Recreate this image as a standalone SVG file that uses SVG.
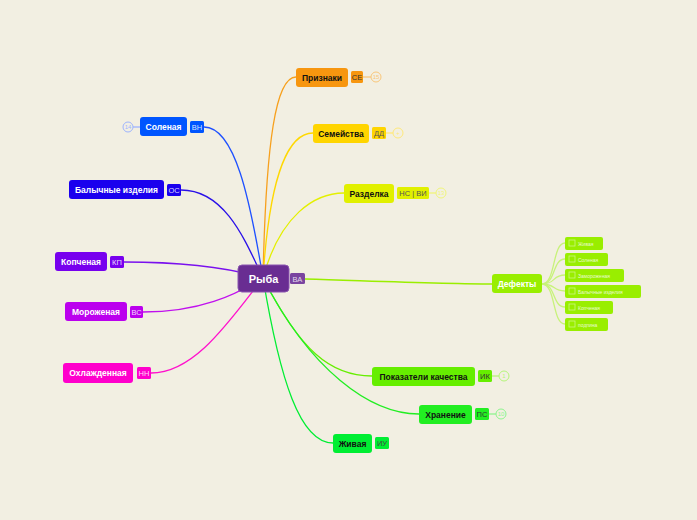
<svg xmlns="http://www.w3.org/2000/svg" width="697" height="520" viewBox="0 0 697 520">
<style>
.lbl{font-family:"Liberation Sans",Arial,sans-serif;font-weight:bold;font-size:8.5px;text-anchor:middle}
.tag{font-family:"Liberation Sans",Arial,sans-serif;font-size:7.5px;text-anchor:middle}
.cnt{font-family:"Liberation Sans",Arial,sans-serif;font-size:6px;text-anchor:middle}
.sub{font-family:"Liberation Sans",Arial,sans-serif;font-size:5px;fill:#ffffff;fill-opacity:.8}
.conn path{fill:none;stroke-width:1.3}
.cb{fill:none;stroke:#ffffff;stroke-opacity:.5;stroke-width:.8}
</style>
<rect width="697" height="520" fill="#f2efe2"/>
<g id="connectors" class="conn">
<path d="M263,278 C266,140 276,77 296,77" stroke="#f7a01d"/>
<path d="M263,278 C270,170 290,133 313,133" stroke="#ffd800"/>
<path d="M263,278 C280,215 315,193 344,193" stroke="#e4f000"/>
<path d="M305,279 C400,282 450,284 492,284" stroke="#9aee00"/>
<path d="M263,278 C300,350 330,376 372,376" stroke="#66ee00"/>
<path d="M263,278 C310,370 370,414 419,414" stroke="#22ee22"/>
<path d="M263,278 C280,380 300,443 333,443" stroke="#00ee33"/>
<path d="M204,127 C235,127 250,200 263,278" stroke="#1e50ff"/>
<path d="M181,190 C225,190 245,240 263,278" stroke="#2a10e8"/>
<path d="M124,262 C190,262 230,268 263,278" stroke="#7a10ee"/>
<path d="M143,312 C200,312 235,295 263,278" stroke="#c010ee"/>
<path d="M151,373 C195,373 230,320 263,278" stroke="#ff10cc"/>
<g stroke="#c8f27a" stroke-width="1">
<path d="M542,284 C556,284 552,243 565,243" fill="none"/>
<path d="M542,284 C556,284 552,259 565,259" fill="none"/>
<path d="M542,284 C556,284 552,275 565,275" fill="none"/>
<path d="M542,284 C556,284 552,291 565,291" fill="none"/>
<path d="M542,284 C556,284 552,307 565,307" fill="none"/>
<path d="M542,284 C556,284 552,324 565,324" fill="none"/>
</g>
<g stroke-width="1" fill="none">
<path d="M363,77 H371" stroke="#f9c77a"/>
<path d="M386,133 H393" stroke="#ffe97a"/>
<path d="M429,193 H436" stroke="#f0f57a"/>
<path d="M492,376 H499" stroke="#b5f57a"/>
<path d="M489,414 H496" stroke="#8ef58e"/>
<path d="M133,127 H140" stroke="#9db4ff"/>
</g>
</g>
<g id="n-ryba">
<rect x="238" y="265" width="51" height="27" rx="4" fill="#692d92" stroke="#8a55b0" stroke-width="1"/>
<text x="263.5" y="282.5" class="lbl" style="font-size:11px" fill="#ffffff">Рыба</text>
<rect x="290" y="273" width="15" height="11" rx="1.5" fill="#7a44a0"/>
<text x="297.5" y="281.5" class="tag" fill="#ffffff" fill-opacity=".8">ВА</text>
</g>
<g id="n-priznaki">
<rect x="296" y="68" width="52" height="19" rx="3" fill="#f7960f"/>
<text x="322" y="80.5" class="lbl" fill="#111">Признаки</text>
<rect x="351" y="71" width="12" height="12" rx="1.5" fill="#f7960f"/>
<text x="357" y="80" class="tag" fill="#333">СЕ</text>
<circle cx="376" cy="77" r="5" fill="none" stroke="#f9c77a"/>
<text x="376" y="79" class="cnt" fill="#f9c77a">15</text>
</g>
<g id="n-semeystva">
<rect x="313" y="124" width="56" height="19" rx="3" fill="#ffd500"/>
<text x="341" y="136.5" class="lbl" fill="#111">Семейства</text>
<rect x="372" y="127" width="14" height="12" rx="1.5" fill="#ffd500"/>
<text x="379" y="136" class="tag" fill="#555">ДД</text>
<circle cx="398" cy="133" r="5" fill="none" stroke="#ffe97a"/>
<text x="398" y="135" class="cnt" fill="#ffe97a">+</text>
</g>
<g id="n-razdelka">
<rect x="344" y="184" width="50" height="19" rx="3" fill="#e1f000"/>
<text x="369" y="196.5" class="lbl" fill="#111">Разделка</text>
<rect x="397" y="187" width="32" height="12" rx="1.5" fill="#e1f000"/>
<text x="413" y="196" class="tag" fill="#555">НС | ВИ</text>
<circle cx="441" cy="193" r="5" fill="none" stroke="#f0f57a"/>
<text x="441" y="195" class="cnt" fill="#f0f57a">13</text>
</g>
<g id="n-defekty">
<rect x="492" y="274" width="50" height="19" rx="3" fill="#99ee00"/>
<text x="517" y="286.5" class="lbl" fill="#ffffff">Дефекты</text>
</g>
<g id="n-d-zhivaya"><rect x="565" y="237" width="38" height="13" rx="2" fill="#99ee00"/><rect x="569" y="240" width="6" height="6" class="cb"/><text x="578" y="245.5" class="sub">Живая</text></g>
<g id="n-d-solenaya"><rect x="565" y="253" width="43" height="13" rx="2" fill="#99ee00"/><rect x="569" y="256" width="6" height="6" class="cb"/><text x="578" y="261.5" class="sub">Соленая</text></g>
<g id="n-d-zamor"><rect x="565" y="269" width="59" height="13" rx="2" fill="#99ee00"/><rect x="569" y="272" width="6" height="6" class="cb"/><text x="578" y="277.5" class="sub">Замороженая</text></g>
<g id="n-d-balych"><rect x="565" y="285" width="76" height="13" rx="2" fill="#99ee00"/><rect x="569" y="288" width="6" height="6" class="cb"/><text x="578" y="293.5" class="sub">Балычные изделия</text></g>
<g id="n-d-kopch"><rect x="565" y="301" width="48" height="13" rx="2" fill="#99ee00"/><rect x="569" y="304" width="6" height="6" class="cb"/><text x="578" y="309.5" class="sub">Копченая</text></g>
<g id="n-d-podpina"><rect x="565" y="318" width="43" height="13" rx="2" fill="#99ee00"/><rect x="569" y="321" width="6" height="6" class="cb"/><text x="578" y="326.5" class="sub">подпина</text></g>
<g id="n-pokazateli">
<rect x="372" y="367" width="103" height="19" rx="3" fill="#66ee00"/>
<text x="423.5" y="379.5" class="lbl" fill="#111">Показатели качества</text>
<rect x="478" y="370" width="14" height="12" rx="1.5" fill="#66ee00"/>
<text x="485" y="379" class="tag" fill="#333">ИК</text>
<circle cx="504" cy="376" r="5" fill="none" stroke="#b5f57a"/>
<text x="504" y="378" class="cnt" fill="#b5f57a">1</text>
</g>
<g id="n-hranenie">
<rect x="419" y="405" width="53" height="19" rx="3" fill="#22ee22"/>
<text x="445.5" y="417.5" class="lbl" fill="#111">Хранение</text>
<rect x="475" y="408" width="14" height="12" rx="1.5" fill="#22ee22"/>
<text x="482" y="417" class="tag" fill="#333">ПС</text>
<circle cx="501" cy="414" r="5" fill="none" stroke="#8ef58e"/>
<text x="501" y="416" class="cnt" fill="#8ef58e">10</text>
</g>
<g id="n-zhivaya">
<rect x="333" y="434" width="39" height="19" rx="3" fill="#00ee33"/>
<text x="352.5" y="446.5" class="lbl" fill="#111">Живая</text>
<rect x="375" y="437" width="14" height="12" rx="1.5" fill="#00ee33"/>
<text x="382" y="446" class="tag" fill="#444">ИУ</text>
</g>
<g id="n-solenaya">
<rect x="140" y="117" width="47" height="19" rx="3" fill="#0055ff"/>
<text x="163.5" y="129.5" class="lbl" fill="#ffffff">Соленая</text>
<rect x="190" y="121" width="14" height="12" rx="1.5" fill="#0055ff"/>
<text x="197" y="130" class="tag" fill="#ffffff" fill-opacity=".85">ВН</text>
<circle cx="128" cy="127" r="5" fill="none" stroke="#9db4ff"/>
<text x="128" y="129" class="cnt" fill="#9db4ff">14</text>
</g>
<g id="n-balychnye">
<rect x="69" y="180" width="95" height="19" rx="3" fill="#1a00ee"/>
<text x="116.5" y="192.5" class="lbl" fill="#ffffff">Балычные изделия</text>
<rect x="167" y="184" width="14" height="12" rx="1.5" fill="#1a00ee"/>
<text x="174" y="193" class="tag" fill="#ffffff" fill-opacity=".85">ОС</text>
</g>
<g id="n-kopchenaya">
<rect x="55" y="252" width="52" height="19" rx="3" fill="#7700ee"/>
<text x="81" y="264.5" class="lbl" fill="#ffffff">Копченая</text>
<rect x="110" y="256" width="14" height="12" rx="1.5" fill="#7700ee"/>
<text x="117" y="265" class="tag" fill="#ffffff" fill-opacity=".85">КП</text>
</g>
<g id="n-morozhenaya">
<rect x="65" y="302" width="62" height="19" rx="3" fill="#bb00ee"/>
<text x="96" y="314.5" class="lbl" fill="#ffffff">Мороженая</text>
<rect x="130" y="306" width="13" height="12" rx="1.5" fill="#bb00ee"/>
<text x="136.5" y="315" class="tag" fill="#ffffff" fill-opacity=".85">ВС</text>
</g>
<g id="n-ohlazhdennaya">
<rect x="63" y="363" width="70" height="20" rx="3" fill="#ff00cc"/>
<text x="98" y="376" class="lbl" fill="#ffffff">Охлажденная</text>
<rect x="137" y="367" width="14" height="12" rx="1.5" fill="#ff00cc"/>
<text x="144" y="376" class="tag" fill="#ffffff" fill-opacity=".85">НН</text>
</g>
</svg>
